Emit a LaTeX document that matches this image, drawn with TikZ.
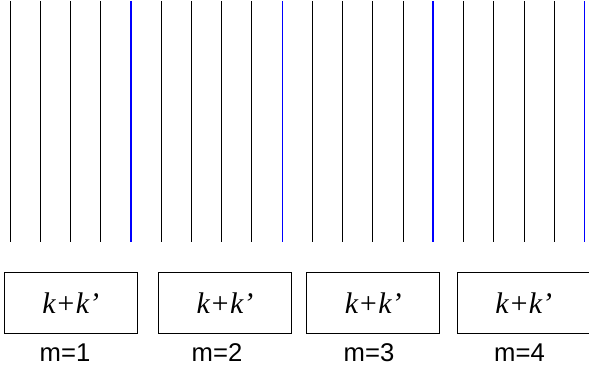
\documentclass[tikz,border=0pt]{standalone}
\usepackage{fontspec}
\setmainfont{Liberation Serif}
\newfontfamily\labelfont{Liberation Sans}
\tikzset{
  grid line/.style={line width=0.55pt,black},
  mark line/.style={line width=0.7pt,blue},
  kbox/.style={draw,line width=0.55pt,minimum width=2.66cm,minimum height=1.21cm,inner sep=0pt,
    font=\fontsize{17}{19}\selectfont\itshape},
  mlabel/.style={inner sep=0pt,font=\labelfont\fontsize{14.6}{16}\selectfont}
}
\begin{document}
\begin{tikzpicture}[x=0.02cm,y=-0.02cm]
\useasboundingbox (0,0) rectangle (589,375);

% strand lines
\draw[grid line] (10.3,1) -- (10.3,242.5);
\draw[grid line] (40.5,1) -- (40.5,242.5);
\draw[grid line] (70.7,1) -- (70.7,242.5);
\draw[grid line] (100.9,1) -- (100.9,242.5);
\draw[mark line] (130.9,1) -- (130.9,242.5);
\draw[grid line] (161.3,1) -- (161.3,242.5);
\draw[grid line] (191.5,1) -- (191.5,242.5);
\draw[grid line] (221.7,1) -- (221.7,242.5);
\draw[grid line] (251.9,1) -- (251.9,242.5);
\draw[mark line] (282.3,1) -- (282.3,242.5);
\draw[grid line] (312.3,1) -- (312.3,242.5);
\draw[grid line] (342.6,1) -- (342.6,242.5);
\draw[grid line] (372.8,1) -- (372.8,242.5);
\draw[grid line] (403.0,1) -- (403.0,242.5);
\draw[mark line] (432.9,1) -- (432.9,242.5);
\draw[grid line] (463.5,1) -- (463.5,242.5);
\draw[grid line] (493.7,1) -- (493.7,242.5);
\draw[grid line] (524.0,1) -- (524.0,242.5);
\draw[grid line] (554.3,1) -- (554.3,242.5);
\draw[mark line] (584.6,1) -- (584.6,242.5);

% blocks
\node[kbox] (box1) at (70.7,303) {k+k’};
\node[kbox] (box2) at (225.0,303) {k+k’};
\node[kbox] (box3) at (373.2,303) {k+k’};
\node[kbox] (box4) at (523.8,303) {k+k’};

\node[mlabel] (m1) at (65,353) {m=1};
\node[mlabel] (m2) at (217,353) {m=2};
\node[mlabel] (m3) at (369,353) {m=3};
\node[mlabel] (m4) at (519.5,353) {m=4};
\end{tikzpicture}
\end{document}
